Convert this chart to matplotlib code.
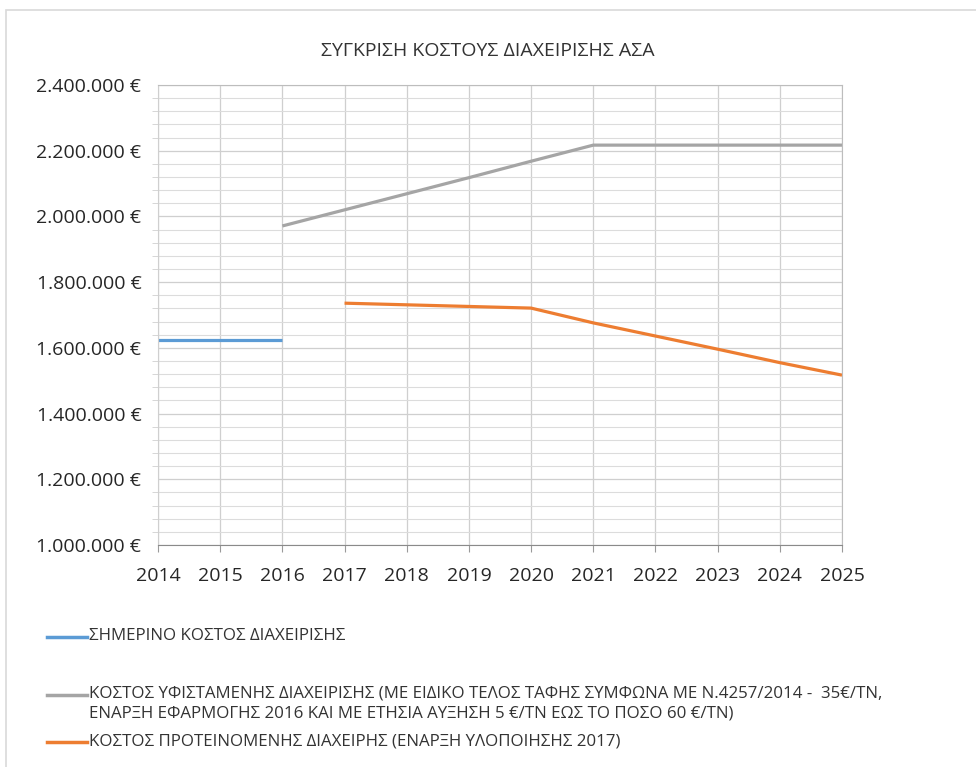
import matplotlib
matplotlib.use("Agg")
import matplotlib.pyplot as plt
import numpy as np
from matplotlib.ticker import FuncFormatter, MultipleLocator
from matplotlib.lines import Line2D
from matplotlib.patches import Rectangle

years = ["2014", "2015", "2016", "2017", "2018", "2019", "2020", "2021", "2022", "2023", "2024", "2025"]
current_cost = [1624000, 1624000, 1624000, None, None, None, None, None, None, None, None, None]
existing_cost = [None, None, 1971000, 2020000, 2069000, 2118000, 2168000, 2217000, 2217000, 2217000, 2217000, 2217000]
proposed_cost = [None, None, None, 1736000, 1731000, 1726000, 1721000, 1676000, 1636000, 1596000, 1555000, 1517000]

labels = [
    "ΣΗΜΕΡΙΝΟ ΚΟΣΤΟΣ ΔΙΑΧΕΙΡΙΣΗΣ",
    "ΚΟΣΤΟΣ ΥΦΙΣΤΑΜΕΝΗΣ ΔΙΑΧΕΙΡΙΣΗΣ (ΜΕ ΕΙΔΙΚΟ ΤΕΛΟΣ ΤΑΦΗΣ ΣΥΜΦΩΝΑ ΜΕ Ν.4257/2014 -  35€/ΤΝ,\nΕΝΑΡΞΗ ΕΦΑΡΜΟΓΗΣ 2016 ΚΑΙ ΜΕ ΕΤΗΣΙΑ ΑΥΞΗΣΗ 5 €/ΤΝ ΕΩΣ ΤΟ ΠΟΣΟ 60 €/ΤΝ)",
    "ΚΟΣΤΟΣ ΠΡΟΤΕΙΝΟΜΕΝΗΣ ΔΙΑΧΕΙΡΗΣ (ΕΝΑΡΞΗ ΥΛΟΠΟΙΗΣΗΣ 2017)",
]
title = "ΣΥΓΚΡΙΣΗ ΚΟΣΤΟΥΣ ΔΙΑΧΕΙΡΙΣΗΣ ΑΣΑ"

colors = ["#5b9bd5", "#a5a5a5", "#ed7d31"]
plt.rcParams['font.family'] = ["Open Sans", "DejaVu Sans"]

W, H = 976, 767
fig = plt.figure(figsize=(W/100, H/100), dpi=100)
fig.patches.append(Rectangle((6/W, -0.01), 1.0, 1-10/H + 0.01, transform=fig.transFigure,
                             fill=False, edgecolor="#d9d9d9", lw=1.2))

ax = fig.add_axes([158/W, 1-545/H, (842-158)/W, (545-85)/H])
x = np.arange(len(years))

def arr(v):
    return np.array([np.nan if a is None else a for a in v], dtype=float)

series = [current_cost, existing_cost, proposed_cost]
for s, c in zip(series, colors):
    ax.plot(x, arr(s), color=c, lw=2.3, solid_capstyle="butt")

ax.set_xlim(0, len(years)-1)
ax.set_ylim(1000000, 2400000)
ax.set_xticks(x)
ax.set_xticklabels(years, fontsize=14, color="#262626")
ax.yaxis.set_major_locator(MultipleLocator(200000))
ax.yaxis.set_minor_locator(MultipleLocator(40000))
ax.yaxis.set_major_formatter(FuncFormatter(lambda v, p: f"{int(v):,}".replace(",", ".") + " €"))
ax.tick_params(axis="y", labelsize=14, labelcolor="#262626", length=0, pad=12)
ax.tick_params(axis="y", which="minor", length=4, color="#d0d0d0", direction="out")
ax.tick_params(axis="x", length=5, color="#9a9a9a", pad=11)
ax.grid(True, which="major", axis="both", color="#cfcfcf", lw=0.9)
ax.grid(True, which="minor", axis="y", color="#dcdcdc", lw=0.8)
ax.set_axisbelow(True)
for sp in ["top", "right"]:
    ax.spines[sp].set_color("#bdbdbd")
ax.spines["left"].set_color("#cfcfcf")
ax.spines["bottom"].set_color("#8a8a8a")

fig.text(0.5, 1-51/H, title, ha="center", va="center", fontsize=14, color="#333333")

# legend, laid out as in the reference
leg_y = [637, 695, 742]
for lab, c, yy in zip(labels, colors, leg_y):
    fig.add_artist(Line2D([47/W, 87/W], [1-yy/H, 1-yy/H], color=c, lw=2.5,
                          transform=fig.transFigure))
    fig.text(89/W, 1-(yy-9)/H, lab, ha="left", va="top", fontsize=12.2,
             color="#333333", linespacing=1.3)

fig.savefig("out.png", dpi=100)
